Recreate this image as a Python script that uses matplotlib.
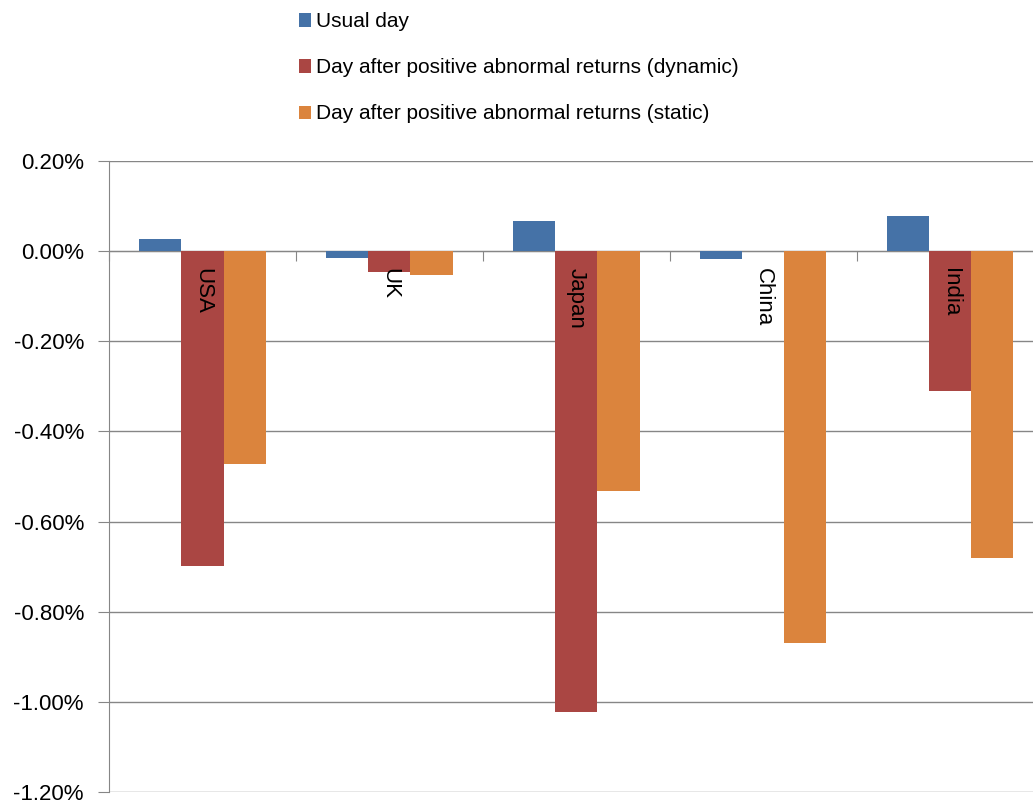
import numpy as np
import matplotlib.pyplot as plt
from matplotlib.patches import Patch
from matplotlib.ticker import FuncFormatter

plt.rcParams['font.family'] = ['Liberation Sans', 'DejaVu Sans']

#%% Data (values in %)
countries = ['USA', 'UK', 'Japan', 'China', 'India']
usual_day = [0.027, -0.016, 0.066, -0.018, 0.078]
after_dynamic = [-0.698, -0.047, -1.023, 0.0, -0.310]
after_static = [-0.472, -0.052, -0.532, -0.870, -0.680]

series_names = ['Usual day',
                'Day after positive abnormal returns (dynamic)',
                'Day after positive abnormal returns (static)']
colors = ['#4572A7', '#AA4643', '#DB843D']


def pct_fmt(v, pos):
    s = '%.2f%%' % (round(v, 4) + 0.0)
    return s.replace('-0.00', '0.00')


#%% Plot
fig = plt.figure(figsize=(10.33, 8.06), dpi=100)
ax = fig.add_axes([0.1055, 0.0174, 0.905, 0.7828])

x = np.arange(len(countries))
width = 0.225
for k, (vals, col) in enumerate(zip([usual_day, after_dynamic, after_static], colors)):
    ax.bar(x + (k - 1) * width, vals, width, color=col, zorder=3)

ax.set_xlim(-0.5, len(countries) - 0.5)
ax.set_ylim(-1.2, 0.2)
ax.set_yticks(np.arange(-1.2, 0.21, 0.2))
ax.yaxis.set_major_formatter(FuncFormatter(pct_fmt))
ax.tick_params(axis='y', labelsize=16, length=8, color='#868686', pad=10)
ax.yaxis.grid(True, color='#868686', linewidth=1, zorder=0)

# category axis crosses at zero
ax.spines['bottom'].set_position(('data', 0))
ax.spines['bottom'].set_color('#868686')
ax.spines['left'].set_color('#868686')
ax.spines['top'].set_visible(False)
ax.spines['right'].set_visible(False)
ax.set_xticks(np.arange(len(countries)) - 0.5)
ax.set_xticklabels([])
ax.tick_params(axis='x', length=7, color='#868686', direction='out')

for i, name in enumerate(countries):
    ax.annotate(name, (i, 0), xytext=(0, -12), textcoords='offset points',
                rotation=270, ha='center', va='top', fontsize=16, zorder=4)

handles = [Patch(facecolor=c) for c in colors]
fig.legend(handles, series_names, loc='upper left', bbox_to_anchor=(0.271, 1.008),
           frameon=False, fontsize=15, labelspacing=1.3, handlelength=0.6,
           handleheight=0.6, handletextpad=0.25)

plt.savefig('out.png', dpi=100)
